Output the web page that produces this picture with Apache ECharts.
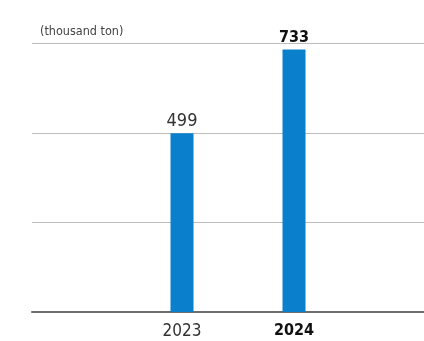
<!DOCTYPE html>
<html><head><meta charset="utf-8">
<script src="https://cdn.jsdelivr.net/npm/echarts@6/dist/echarts.min.js"></script>
<style>html,body{margin:0;padding:0;background:#fff}#c{width:424px;height:341px}</style>
</head><body><div id="c"></div>
<script>
const categories = ['2023', '2024'];
const values = [499, 733];
const unitLabel = '(thousand ton)';
const yTicks = [0, 250, 500, 750];

const FONT = '"DejaVu Sans Condensed", "Roboto", sans-serif';
const chart = echarts.init(document.getElementById('c'), null, {renderer: 'canvas'});
chart.setOption({
  animation: false,
  grid: [
    {left: 32, right: 0, top: 43.5, bottom: 29},
    {left: 126, right: 74, top: 43.5, bottom: 29}
  ],
  graphic: [{type: 'text', left: 40, top: 25, style: {text: unitLabel, font: '12.5px ' + FONT, fill: '#444'}}],
  xAxis: [
    {type: 'value', gridIndex: 0, min: 0, max: 1, show: true, axisLabel: {show: false}, axisTick: {show: false}, splitLine: {show: false},
     axisLine: {show: true, lineStyle: {color: '#6e6e6e', width: 2}}},
    {type: 'category', gridIndex: 1, data: categories, axisLine: {show: false}, axisTick: {show: false},
     axisLabel: {margin: 11, fontFamily: FONT, fontSize: 17, color: '#333',
       formatter: (v, i) => i === categories.length - 1 ? '{b|' + v + '}' : v,
       rich: {b: {fontFamily: FONT, fontSize: 16, fontWeight: 'bold', color: '#111'}}}}
  ],
  yAxis: [
    {type: 'value', gridIndex: 0, min: yTicks[0], max: yTicks[yTicks.length - 1], interval: yTicks[1] - yTicks[0],
     axisLabel: {show: false}, axisLine: {show: false}, axisTick: {show: false},
     splitLine: {lineStyle: {color: '#bcbcbc', width: 1}}},
    {type: 'value', gridIndex: 1, min: yTicks[0], max: yTicks[yTicks.length - 1], show: false, splitLine: {show: false}}
  ],
  series: [{
    type: 'bar', xAxisIndex: 1, yAxisIndex: 1, barWidth: 23, z: 1,
    data: values.map((v, i) => ({
      value: v,
      label: i === values.length - 1 ? {fontWeight: 'bold', color: '#111', fontSize: 16, distance: 4} : {}
    })),
    itemStyle: {color: '#0a80cc'},
    label: {show: true, position: 'top', distance: 3, fontFamily: FONT, fontSize: 18, color: '#333'}
  }]
});
</script></body></html>
